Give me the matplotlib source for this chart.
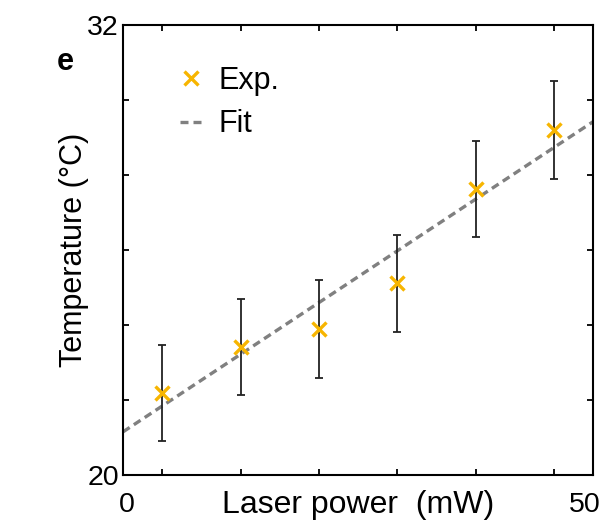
import numpy as np
import matplotlib.pyplot as plt
from matplotlib.lines import Line2D

plt.rcParams['font.family'] = ['Liberation Sans', 'DejaVu Sans']

# Data
power = [4.2, 12.5, 20.8, 29.2, 37.5, 45.8]   # laser power (mW)
temp = [22.19, 23.41, 23.89, 25.11, 27.63, 29.20]  # temperature (C)
temp_err = [1.29, 1.28, 1.30, 1.29, 1.28, 1.30]

fit_x = [0, 50]
fit_y = [21.15, 29.42]

y_ticks = [20, 22, 24, 26, 28, 30, 32]

ORANGE = '#F7B500'
GREY = '#808080'

fig = plt.figure(figsize=(6.13, 5.30), dpi=100)
ax = fig.add_axes([123/613, 55/530, 470/613, 450/530])

ax.plot(fit_x, fit_y, ls=(0, (2.4, 1.5)), color=GREY, lw=2.4, zorder=1)
ax.errorbar(power, temp, yerr=temp_err, fmt='none', ecolor='#222222',
            elinewidth=1.3, capsize=3, capthick=1.3, zorder=2)
ax.plot(power, temp, 'x', color=ORANGE, ms=10, mew=2.4, zorder=3)

ax.set_xlim(0, 50)
ax.set_ylim(20, 32)
ax.set_xticks(power)
ax.set_xticklabels([])
ax.set_yticks(y_ticks)
ax.set_yticklabels(['20', '', '', '', '', '', '32'], fontsize=20.5)
ax.tick_params(direction='in', length=4, width=1.3, top=True, right=True,
               pad=3)
for s in ax.spines.values():
    s.set_linewidth(1.5)

# x end labels
ax.text(0.008, -0.038, '0', transform=ax.transAxes, fontsize=20.5,
        ha='center', va='top')
ax.text(0.983, -0.038, '50', transform=ax.transAxes, fontsize=20.5,
        ha='center', va='top')

ax.set_xlabel('Laser power  (mW)', fontsize=23, labelpad=8)
ax.set_ylabel('Temperature (°C)', fontsize=22, labelpad=-1)

fig.text(65/613, 1 - 62/530, 'e', fontsize=22, fontweight='bold',
         ha='center', va='center')

handles = [Line2D([], [], ls='none', marker='x', color=ORANGE, ms=10, mew=2.4),
           Line2D([], [], ls=(0, (2.4, 1.5)), color=GREY, lw=2.4)]
ax.legend(handles, ['Exp.', 'Fit'], loc='upper left', frameon=False,
          fontsize=22, bbox_to_anchor=(0.122, 0.91), borderaxespad=0,
          borderpad=0, handlelength=0.7, handletextpad=0.55,
          labelspacing=0.45)

fig.savefig('out.png', dpi=100)
